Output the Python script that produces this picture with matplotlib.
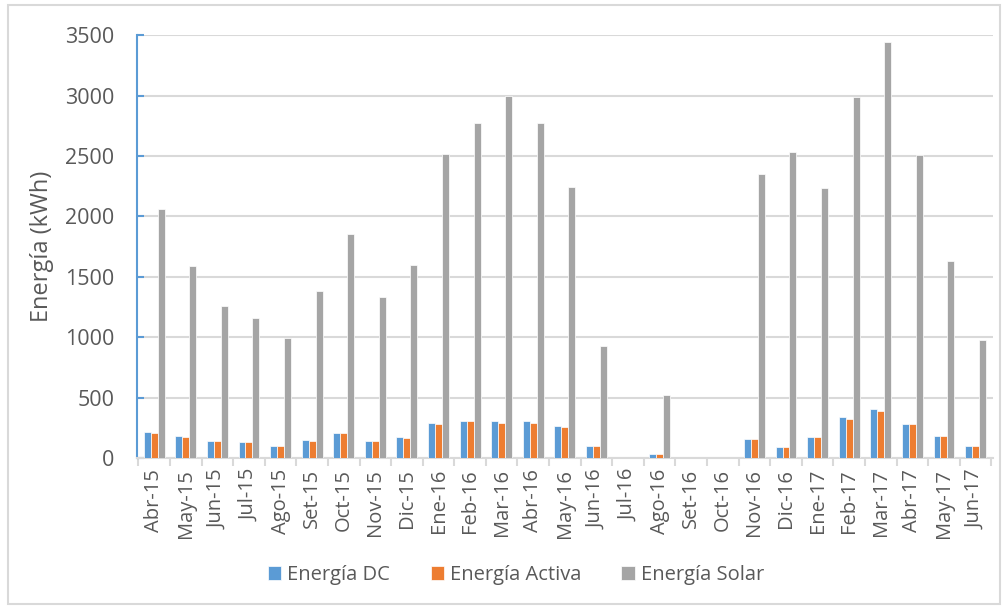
import numpy as np
import matplotlib.pyplot as plt
from matplotlib.patches import Rectangle

meses = ['Abr-15', 'May-15', 'Jun-15', 'Jul-15', 'Ago-15', 'Set-15', 'Oct-15',
         'Nov-15', 'Dic-15', 'Ene-16', 'Feb-16', 'Mar-16', 'Abr-16', 'May-16',
         'Jun-16', 'Jul-16', 'Ago-16', 'Set-16', 'Oct-16', 'Nov-16', 'Dic-16',
         'Ene-17', 'Feb-17', 'Mar-17', 'Abr-17', 'May-17', 'Jun-17']

energia_dc = [213, 183, 140, 132, 98, 152, 208, 140, 174, 287, 303, 303, 303,
              261, 98, 0, 34, 0, 0, 154, 87, 174, 337, 402, 284, 185, 98]
energia_activa = [205, 171, 140, 132, 98, 140, 208, 140, 163, 284, 303, 292, 292,
                  258, 98, 0, 34, 0, 0, 154, 87, 174, 326, 390, 284, 185, 98]
energia_solar = [2065, 1590, 1260, 1155, 990, 1385, 1855, 1335, 1600, 2520, 2775,
                 3000, 2775, 2245, 925, 0, 520, 0, 0, 2350, 2530, 2235, 2990,
                 3442, 2510, 1630, 975]

azul = '#5B9BD5'
naranja = '#ED7D31'
gris = '#A5A5A5'
texto = '#595959'
linea = '#D9D9D9'

plt.rcParams['font.family'] = ['Open Sans', 'DejaVu Sans']

fig = plt.figure(figsize=(10.06, 6.09), dpi=100)
ax = fig.add_axes([0.136, 0.248, 0.851, 0.694])

x = np.arange(len(meses))
w = 0.22
ax.bar(x - w, energia_dc, w, color=azul, edgecolor='white', linewidth=0.5, label='Energía DC', zorder=3)
ax.bar(x, energia_activa, w, color=naranja, edgecolor='white', linewidth=0.5, label='Energía Activa', zorder=3)
ax.bar(x + w, energia_solar, w, color=gris, edgecolor='white', linewidth=0.5, label='Energía Solar', zorder=3)

ax.set_xlim(-0.5 - 0.05, len(meses) - 0.5 + 0.05)
ax.set_ylim(0, 3500)
ax.set_yticks(range(0, 3501, 500))
ax.yaxis.grid(True, color=linea, linewidth=1.5, zorder=0)

ax.set_xticks(x)
ax.set_xticklabels(meses, rotation=90, fontsize=14.5, color=texto)
ax.tick_params(axis='x', length=0, pad=8)
# separadores entre categorias
ax.set_xticks(np.arange(-0.5, len(meses)), minor=True)
ax.tick_params(axis='x', which='minor', length=6, width=1.5, color=linea, direction='out')

ax.tick_params(axis='y', length=5, width=1.5, color=azul, direction='in',
               labelsize=15.5, labelcolor=texto, pad=16)
ax.set_ylabel('Energía (kWh)', fontsize=17, color=texto)
ax.yaxis.set_label_coords(-0.097, 0.5)

for s in ['top', 'right']:
    ax.spines[s].set_visible(False)
ax.spines['left'].set_color(azul)
ax.spines['left'].set_linewidth(1.5)
ax.spines['bottom'].set_color(linea)
ax.spines['bottom'].set_linewidth(1.5)

h, l = ax.get_legend_handles_labels()
fig.legend(h, l, loc='center', bbox_to_anchor=(0.513, 0.056), ncol=3, frameon=False,
           fontsize=14.5, labelcolor=texto, handlelength=0.65, handleheight=0.65,
           handletextpad=0.3, columnspacing=2.0)

fig.patches.append(Rectangle((0.008, 0.008), 0.986, 0.984, transform=fig.transFigure,
                             fill=False, edgecolor=linea, linewidth=1.5))

plt.savefig('out.png', dpi=100)
